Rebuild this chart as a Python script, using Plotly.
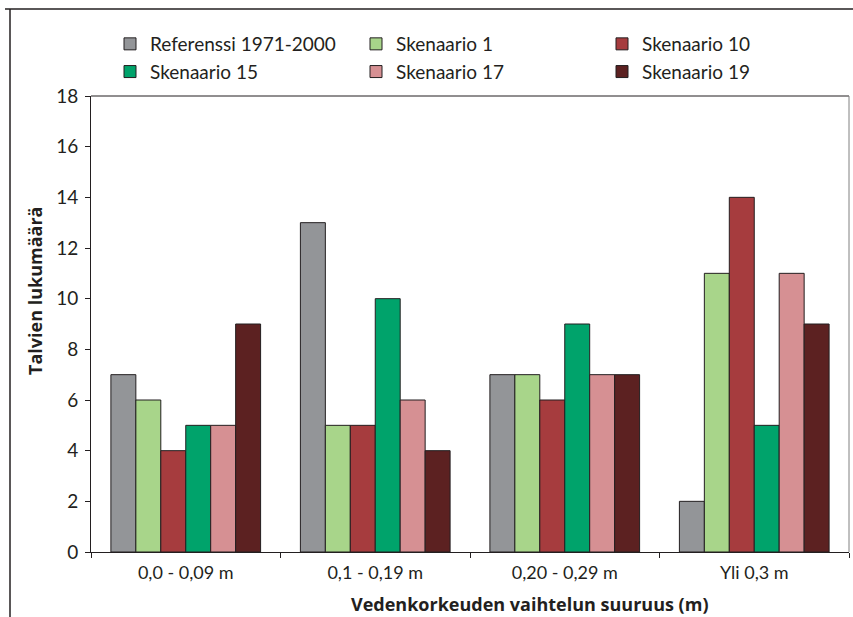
import plotly.graph_objects as go

categories = ["0,0 - 0,09 m", "0,1 - 0,19 m", "0,20 - 0,29 m", "Yli 0,3 m"]
series_names = ["Referenssi 1971-2000", "Skenaario 1", "Skenaario 10",
                "Skenaario 15", "Skenaario 17", "Skenaario 19"]
ref = [7, 13, 7, 2]
s1 = [6, 5, 7, 11]
s10 = [4, 5, 6, 14]
s15 = [5, 10, 9, 5]
s17 = [5, 6, 7, 11]
s19 = [9, 4, 7, 9]
values = [ref, s1, s10, s15, s17, s19]
colors = ["#939598", "#a8d58a", "#a63c3e", "#00a36b", "#d69093", "#5c2121"]
x_title = "Vedenkorkeuden vaihtelun suuruus (m)"
y_title = "Talvien lukumäärä"

W, H = 853, 617
L, R, T, B = 91, 4, 96, 65

fig = go.Figure()
for name, v, c in zip(series_names, values, colors):
    fig.add_trace(go.Bar(x=categories, y=v, name=name,
                         marker=dict(color=c, line=dict(color="#231f20", width=1))))

pw = W - L - R
ph = H - T - B
def px(x):
    return (x - L) / pw
def py(y):
    return (H - B - y) / ph

font = "Lato, 'Open Sans', sans-serif"
bold_font = "'Open Sans', 'DejaVu Sans', sans-serif"
fig.update_layout(
    width=W, height=H,
    margin=dict(l=L, r=R, t=T, b=B, autoexpand=False),
    paper_bgcolor="white", plot_bgcolor="white",
    barmode="group", bargap=0.21, bargroupgap=0,
    font=dict(family=font, size=16, color="#231f20"),
    showlegend=True,
    legend=dict(orientation="h", x=px(110), y=py(25), xanchor="left", yanchor="top",
                entrywidth=201, entrywidthmode="pixels", itemwidth=30,
                font=dict(size=19), traceorder="normal", tracegroupgap=0),
    xaxis=dict(showline=True, linecolor="#231f20", linewidth=1, mirror=False,
               ticks="outside", ticklen=5, tickcolor="#231f20", tickson="boundaries",
               tickfont=dict(size=18), ticklabelstandoff=4),
    yaxis=dict(range=[0, 18], dtick=2, showline=True, linecolor="#231f20", linewidth=1,
               ticks="outside", ticklen=5, tickcolor="#231f20", showgrid=False, zeroline=False,
               tickfont=dict(size=19), ticklabelstandoff=3),
    annotations=[
        dict(text="<b>" + x_title + "</b>", xref="paper", yref="paper", x=px(529), y=py(604),
             xanchor="center", yanchor="middle", showarrow=False,
             font=dict(family=bold_font, size=18, color="#231f20")),
        dict(text="<b>" + y_title + "</b>", xref="paper", yref="paper", x=px(35), y=py(291),
             xanchor="center", yanchor="middle", showarrow=False, textangle=-90,
             font=dict(family=bold_font, size=18, color="#231f20")),
    ],
    shapes=[
        dict(type="line", xref="paper", yref="paper", x0=0, x1=1, y0=1, y1=1, line=dict(color="#231f20", width=1)),
        dict(type="line", xref="paper", yref="paper", x0=1, x1=1, y0=0, y1=1, line=dict(color="#808080", width=1)),
        dict(type="line", xref="paper", yref="paper", x0=px(5), x1=px(853), y0=py(9), y1=py(9), line=dict(color="#231f20", width=1.5)),
        dict(type="line", xref="paper", yref="paper", x0=px(10), x1=px(10), y0=py(9), y1=py(617), line=dict(color="#231f20", width=1.5)),
    ],
)
fig.write_html("out.html", config={"displayModeBar": False},
               post_script="document.body.style.margin='0';document.body.style.overflow='hidden';")
